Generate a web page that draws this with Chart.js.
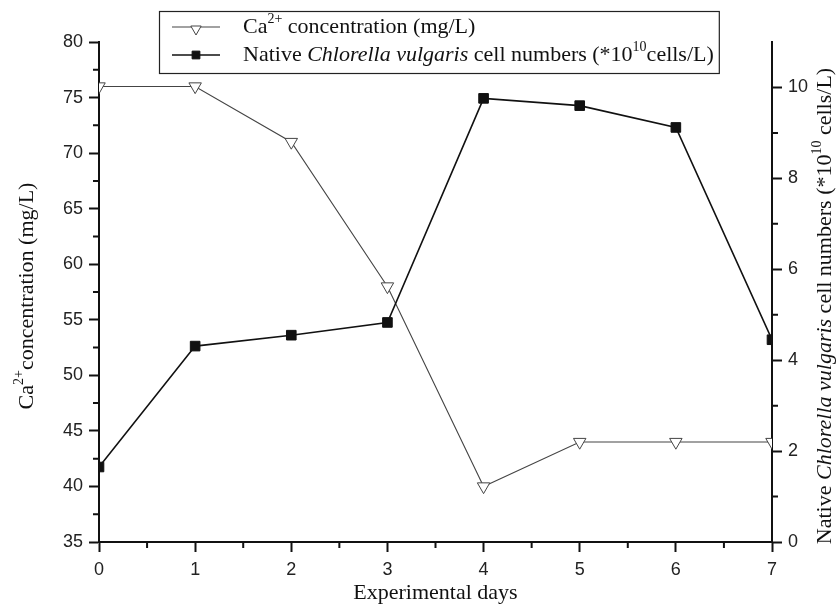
<!DOCTYPE html>
<html>
<head>
<meta charset="utf-8">
<script src="https://cdn.jsdelivr.net/npm/chart.js@4.4.1/dist/chart.umd.min.js"></script>
<style>
  html, body { margin: 0; padding: 0; background: #fff; }
  #wrap { width: 837px; height: 604px; }
</style>
</head>
<body>
<div id="wrap"><canvas id="c" width="837" height="604"></canvas></div>
<script>
// Experiment timeline and the two measured series
const days = [0, 1, 2, 3, 4, 5, 6, 7];
const calcium = [76, 76, 71, 58, 40, 44, 44, 44];                    // mg/L
const cellNumbers = [1.65, 4.31, 4.55, 4.83, 9.76, 9.6, 9.12, 4.45]; // *10^10 cells/L

// Axis ranges and tick steps
const xRange = [0, 7], xStep = 1, xMinorStep = 0.5;
const caRange = [35, 80], caStep = 5, caMinorStep = 2.5;
const cellRange = [0, 11], cellStep = 2, cellMinorStep = 1;

const SANS = '"Liberation Sans", Arial, sans-serif';
const SERIF = '"Liberation Serif", "Times New Roman", serif';
const INK = '#111';
const TEXT_SIZE = 22;

// Draw a run of text pieces (plain / italic / superscript) starting at x
function drawRich(ctx, parts, x, y, size) {
  let cx = x;
  ctx.textBaseline = 'middle';
  ctx.textAlign = 'left';
  for (const p of parts) {
    const fs = p.sup ? Math.round(size * 0.65) : size;
    ctx.font = (p.italic ? 'italic ' : '') + fs + 'px ' + SERIF;
    const dy = p.sup ? -size * 0.36 : 0;
    ctx.fillText(p.text, cx, y + dy);
    cx += ctx.measureText(p.text).width;
  }
  return cx;
}
function richWidth(ctx, parts, size) {
  let w = 0;
  for (const p of parts) {
    const fs = p.sup ? Math.round(size * 0.65) : size;
    ctx.font = (p.italic ? 'italic ' : '') + fs + 'px ' + SERIF;
    w += ctx.measureText(p.text).width;
  }
  return w;
}

const caLabel = [{text: 'Ca'}, {text: '2+', sup: true}, {text: ' concentration (mg/L)'}];
const cellLabel = [{text: 'Native '}, {text: 'Chlorella vulgaris', italic: true},
  {text: ' cell numbers (*10'}, {text: '10', sup: true}, {text: 'cells/L)'}];
const caAxisTitle = [{text: 'Ca'}, {text: '2+', sup: true}, {text: 'concentration (mg/L)'}];
const cellAxisTitle = [{text: 'Native '}, {text: 'Chlorella vulgaris', italic: true},
  {text: ' cell numbers (*10'}, {text: '10', sup: true}, {text: ' cells/L)'}];

// Minor tick marks, axis titles and the boxed legend
const decorations = {
  id: 'decorations',
  afterDraw(chart) {
    const ctx = chart.ctx;
    const {x, y, y1} = chart.scales;
    const area = chart.chartArea;
    ctx.save();
    ctx.strokeStyle = INK;
    ctx.lineWidth = 2;
    ctx.beginPath();
    for (let v = xRange[0] + xMinorStep; v < xRange[1]; v += xStep) {
      const px = x.getPixelForValue(v);
      ctx.moveTo(px, area.bottom); ctx.lineTo(px, area.bottom + 6);
    }
    for (let v = caRange[0] + caMinorStep; v < caRange[1]; v += caStep) {
      const py = y.getPixelForValue(v);
      ctx.moveTo(area.left, py); ctx.lineTo(area.left - 6, py);
    }
    for (let v = cellRange[0] + cellMinorStep; v < cellRange[1]; v += cellStep) {
      const py = y1.getPixelForValue(v);
      ctx.moveTo(area.right, py); ctx.lineTo(area.right + 6, py);
    }
    ctx.stroke();

    ctx.fillStyle = INK;
    const size = TEXT_SIZE;
    // x title
    ctx.font = size + 'px ' + SERIF;
    ctx.textAlign = 'center';
    ctx.textBaseline = 'middle';
    ctx.fillText('Experimental days', (area.left + area.right) / 2, 593);

    // left title
    ctx.save();
    ctx.translate(27, 296);
    ctx.rotate(-Math.PI / 2);
    drawRich(ctx, caAxisTitle, -richWidth(ctx, caAxisTitle, size) / 2, 0, size);
    ctx.restore();

    // right title
    ctx.save();
    ctx.translate(825, 306);
    ctx.rotate(-Math.PI / 2);
    drawRich(ctx, cellAxisTitle, -richWidth(ctx, cellAxisTitle, size) / 2, 0, size);
    ctx.restore();

    // legend
    const lx = 159, ly = 11, lb = 73, row1 = 27, row2 = 55, textX = 243;
    const w = Math.max(richWidth(ctx, caLabel, size), richWidth(ctx, cellLabel, size));
    const rx = textX + w + 5;
    ctx.fillStyle = '#fff';
    ctx.fillRect(lx, ly, rx - lx, lb - ly);
    ctx.strokeStyle = '#222';
    ctx.lineWidth = 1.2;
    ctx.strokeRect(lx + 0.5, ly + 0.5, rx - lx, lb - ly);

    const ce = chart.data.datasets[0], ca = chart.data.datasets[1];
    // symbol lines
    ctx.strokeStyle = ca.borderColor; ctx.lineWidth = ca.borderWidth;
    ctx.beginPath(); ctx.moveTo(172, row1); ctx.lineTo(220, row1); ctx.stroke();
    ctx.strokeStyle = ce.borderColor; ctx.lineWidth = ce.borderWidth;
    ctx.beginPath(); ctx.moveTo(172, row2); ctx.lineTo(220, row2); ctx.stroke();
    // symbol markers
    ctx.fillStyle = '#fff'; ctx.strokeStyle = ca.pointBorderColor; ctx.lineWidth = 1;
    Chart.helpers.drawPoint(ctx, {pointStyle: 'triangle', rotation: 180, radius: 6, borderWidth: 1}, 196, row1 + 2);
    ctx.fillStyle = '#111'; ctx.strokeStyle = '#111';
    Chart.helpers.drawPoint(ctx, {pointStyle: 'rect', rotation: 0, radius: 5.5, borderWidth: 1}, 196, row2);

    ctx.fillStyle = INK;
    drawRich(ctx, caLabel, textX, row1, size);
    drawRich(ctx, cellLabel, textX, row2, size);
    ctx.restore();
  }
};

const axisBorder = {display: true, color: INK, width: 2};
const tickFont = {family: SANS, size: 18};
const gridTicksOnly = {drawOnChartArea: false, drawTicks: true, tickLength: 10,
  tickWidth: 2, tickColor: INK, color: INK};

new Chart(document.getElementById('c'), {
  type: 'line',
  data: {
    datasets: [
      {
        label: 'Native Chlorella vulgaris cell numbers',
        data: days.map((d, i) => ({x: d, y: cellNumbers[i]})),
        yAxisID: 'y1',
        order: 0,
        borderColor: '#111',
        borderWidth: 1.6,
        backgroundColor: '#111',
        pointStyle: 'rect',
        pointRadius: 6.8,
        pointBackgroundColor: '#111',
        pointBorderColor: '#111',
        pointBorderWidth: 1,
        tension: 0
      },
      {
        label: 'Ca2+ concentration (mg/L)',
        data: days.map((d, i) => ({x: d, y: calcium[i]})),
        yAxisID: 'y',
        order: 1,
        borderColor: '#444',
        borderWidth: 1.1,
        pointStyle: 'triangle',
        pointRotation: 180,
        pointRadius: 7.2,
        pointBackgroundColor: '#fff',
        pointBorderColor: '#444',
        pointBorderWidth: 1,
        tension: 0
      }
    ]
  },
  options: {
    responsive: false,
    animation: false,
    devicePixelRatio: 1,
    layout: {padding: {top: 42, left: 0, right: 0, bottom: 0}},
    plugins: {legend: {display: false}, tooltip: {enabled: false}, title: {display: false}},
    scales: {
      x: {
        type: 'linear', min: xRange[0], max: xRange[1],
        ticks: {stepSize: xStep, font: tickFont, color: '#222', padding: 7, maxRotation: 0},
        grid: gridTicksOnly, border: axisBorder,
        afterFit(s) { s.height = 62; }
      },
      y: {
        type: 'linear', position: 'left', min: caRange[0], max: caRange[1],
        ticks: {stepSize: caStep, font: tickFont, color: '#222', padding: 6},
        grid: gridTicksOnly, border: axisBorder,
        afterFit(s) { s.width = 99; }
      },
      y1: {
        type: 'linear', position: 'right', min: cellRange[0], max: cellRange[1],
        ticks: {stepSize: cellStep, includeBounds: false, font: tickFont, color: '#222', padding: 6},
        grid: gridTicksOnly, border: axisBorder,
        afterFit(s) { s.width = 65; }
      }
    }
  },
  plugins: [decorations]
});
</script>
</body>
</html>
